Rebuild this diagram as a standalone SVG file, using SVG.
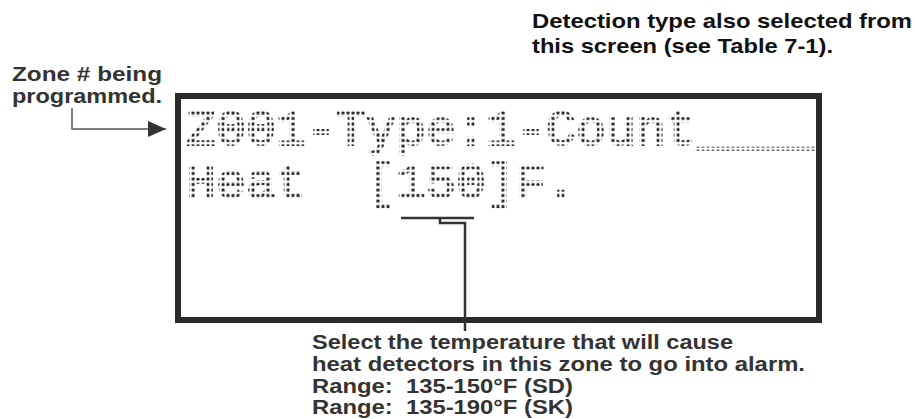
<svg xmlns="http://www.w3.org/2000/svg" width="915" height="419" viewBox="0 0 915 419">
<style>
.lbl{font-family:"Liberation Sans",Arial,sans-serif;font-weight:bold;}
.zone{font-size:20px;fill:#333;}
.top{font-size:21px;fill:#111;}
.bot{font-size:19.5px;fill:#333;}
.lcd{font-family:"Liberation Mono","DejaVu Sans Mono",monospace;font-weight:normal;font-size:50px;fill:url(#dots);stroke:url(#dots);stroke-width:2;}
.ln{fill:none;stroke:#333;stroke-width:2.5;}
</style>
<defs>
<pattern id="dots" patternUnits="userSpaceOnUse" x="186" y="111" width="5" height="5.5">
<rect x="0.6" y="0.6" width="2.8" height="2.8" fill="#2a2a2a"/>
</pattern>
<marker id="arr" markerWidth="18" markerHeight="16" refX="18" refY="8" orient="auto" markerUnits="userSpaceOnUse">
<path d="M0,0 L18,8 L0,16 Z" fill="#333"/>
</marker>
</defs>
<g id="zone-label">
<text class="lbl zone" x="12" y="81" textLength="150" lengthAdjust="spacingAndGlyphs">Zone # being</text>
<text class="lbl zone" x="12" y="103" textLength="150" lengthAdjust="spacingAndGlyphs">programmed.</text>
</g>
<g id="detection-label">
<text class="lbl top" x="532" y="28" textLength="380" lengthAdjust="spacingAndGlyphs">Detection type also selected from</text>
<text class="lbl top" x="532" y="53" textLength="301" lengthAdjust="spacingAndGlyphs">this screen (see Table 7-1).</text>
</g>
<g id="screen">
<rect x="178" y="96" width="641" height="224" fill="#fff" stroke="#2a2a2a" stroke-width="6"/>
<text class="lcd" x="186" y="145">Z001-Type:1-Count____</text>
<text class="lcd" x="186" y="198" xml:space="preserve">Heat  [150]F.</text>
</g>
<g id="temp-label">
<text class="lbl bot" x="312" y="349" textLength="421" lengthAdjust="spacingAndGlyphs">Select the temperature that will cause</text>
<text class="lbl bot" x="312" y="371" textLength="493" lengthAdjust="spacingAndGlyphs">heat detectors in this zone to go into alarm.</text>
<text class="lbl bot" x="312" y="393" textLength="261" lengthAdjust="spacingAndGlyphs" xml:space="preserve">Range:  135-150°F (SD)</text>
<text class="lbl bot" x="312" y="414" textLength="261" lengthAdjust="spacingAndGlyphs" xml:space="preserve">Range:  135-190°F (SK)</text>
</g>
<g id="connectors">
<polyline points="72,108 72,129 166,129" fill="none" stroke="#555" stroke-width="1.5" marker-end="url(#arr)"/>
<line class="ln" x1="401" y1="218" x2="474" y2="218"/>
<polyline class="ln" points="440,218 440,223 465,223 465,331"/>
</g>
</svg>
